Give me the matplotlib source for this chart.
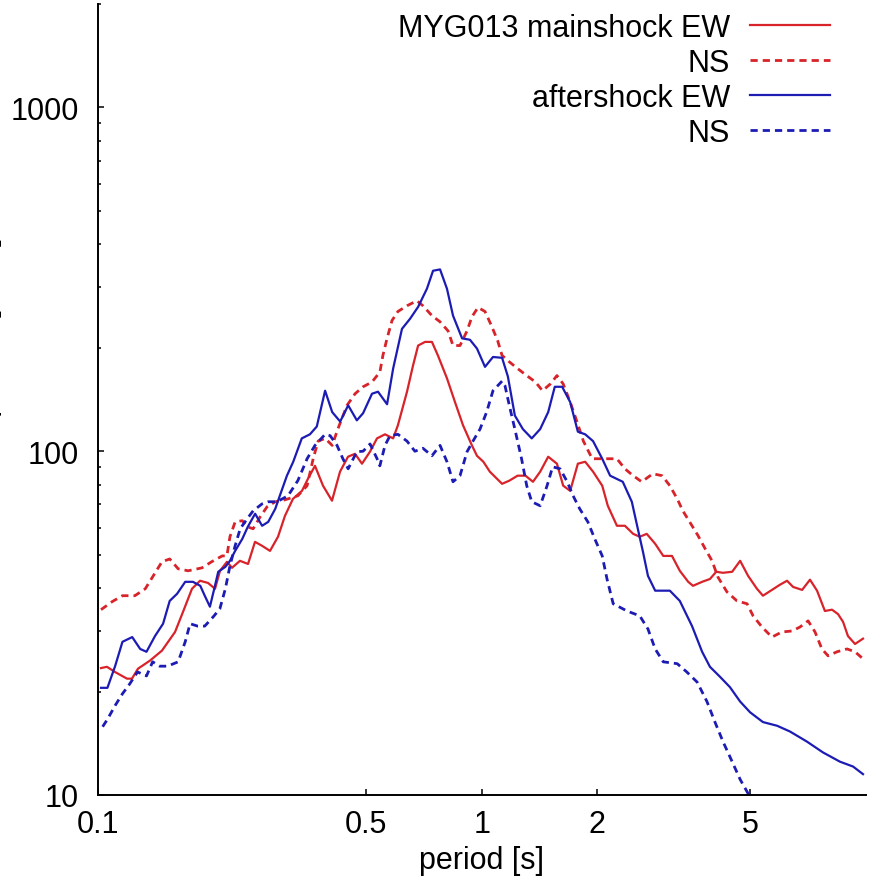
import matplotlib
matplotlib.use("Agg")
import matplotlib.pyplot as plt
from matplotlib.ticker import FixedLocator, NullLocator, LogLocator, NullFormatter

# Fourier spectra at MYG013
# mainshock EW
ms_ew_T = [0.102, 0.1057, 0.1109, 0.1192, 0.1228, 0.1273, 0.1368, 0.147, 0.159, 0.1668, 0.176, 0.1847,
           0.1937, 0.2021, 0.2082, 0.2171, 0.2237, 0.2347, 0.2463, 0.2568, 0.2678, 0.281, 0.2948, 0.3074,
           0.3225, 0.3404, 0.3529, 0.368, 0.3861, 0.4075, 0.4276, 0.4486, 0.4678, 0.4878, 0.5118, 0.5338,
           0.56, 0.588, 0.605, 0.639, 0.662, 0.683, 0.712, 0.742, 0.769, 0.812, 0.852, 0.894, 0.943, 0.972,
           1.01, 1.05, 1.13, 1.18, 1.24, 1.3, 1.36, 1.42, 1.49, 1.57, 1.63, 1.7, 1.78, 1.86, 1.95, 2.06,
           2.13, 2.25, 2.36, 2.48, 2.58, 2.69, 2.83, 2.97, 3.13, 3.28, 3.45, 3.55, 3.75, 3.93, 4.08, 4.25,
           4.49, 4.71, 4.94, 5.21, 5.4, 5.7, 5.98, 6.24, 6.47, 6.83, 7.16, 7.47, 7.83, 8.17, 8.47, 8.73,
           8.99, 9.38, 9.84]
ms_ew_A = [23.4, 23.6, 22.8, 21.8, 21.8, 23.3, 24.6, 26.3, 29.8, 34.1, 39.8, 42, 41.4, 39.8, 44.9, 47.7,
           45.8, 48, 47, 54.5, 53.1, 51.3, 56.4, 64.9, 72.7, 76.7, 83.2, 90.7, 79.4, 71.8, 87.2, 96.4, 98.3,
           92, 99.7, 109, 112, 109, 119, 149, 177, 203, 208, 208, 190, 163, 139, 119, 104, 97, 93.2, 87.2,
           80.4, 82.1, 84.9, 84.9, 81.5, 87.2, 96.4, 92, 79.4, 76.7, 92, 93.2, 87.2, 79.4, 69.4, 60.7, 60.7,
           57.5, 56.4, 57.5, 53.8, 49.6, 49.6, 44.9, 41.7, 40.6, 41.7, 42.5, 44.6, 44.3, 44.6, 48, 43.4,
           39.8, 38, 39.5, 40.9, 42, 40.3, 39.5, 42.3, 39.3, 34.3, 34.6, 33.6, 31.9, 29, 27.5, 28.5]

# mainshock NS
ms_ns_T = [0.102, 0.109, 0.116, 0.125, 0.133, 0.139, 0.147, 0.154, 0.162, 0.172, 0.187, 0.198, 0.211,
           0.217, 0.221, 0.228, 0.238, 0.245, 0.254, 0.265, 0.276, 0.29, 0.307, 0.332, 0.351, 0.364, 0.375,
           0.391, 0.408, 0.422, 0.446, 0.468, 0.491, 0.518, 0.543, 0.553, 0.567, 0.584, 0.605, 0.639, 0.678,
           0.703, 0.742, 0.779, 0.817, 0.842, 0.878, 0.916, 0.943, 0.978, 1.02, 1.06, 1.1, 1.13, 1.18, 1.24,
           1.31, 1.38, 1.44, 1.51, 1.57, 1.63, 1.7, 1.77, 1.84, 1.94, 2.03, 2.13, 2.25, 2.36, 2.48, 2.61,
           2.79, 2.95, 3.09, 3.23, 3.34, 3.53, 3.66, 3.82, 3.98, 4.12, 4.35, 4.62, 4.91, 5.09, 5.37, 5.7,
           6.05, 6.43, 6.74, 7.08, 7.38, 7.69, 7.98, 8.42, 8.94, 9.38, 9.84]
ms_ns_A = [34.6, 36.5, 38, 38, 39.8, 43.1, 47.7, 48.6, 45.5, 44.9, 45.8, 47.7, 49.6, 49.6, 56.4, 62.3,
           62.8, 60.3, 59.5, 64.5, 68.9, 71.3, 72.2, 74.2, 79.4, 95.1, 107, 109, 104, 116, 136, 147, 154,
           159, 170, 190, 213, 240, 255, 265, 274, 265, 248, 238, 224, 203, 203, 224, 246, 262, 255, 232,
           210, 190, 182, 174, 166, 159, 150, 157, 166, 157, 139, 122, 107, 95.1, 95.1, 95.1, 95.1, 88.9,
           84.9, 81.5, 86, 84.9, 79.4, 72.7, 67.1, 60.7, 56.8, 52, 48, 43.1, 39, 36.7, 36, 33.2, 30.8, 28.8,
           29.8, 30, 30.8, 32.1, 29.8, 26.6, 25.4, 26.1, 26.6, 26.1, 24.9]

# aftershock EW
as_ew_T = [0.102, 0.106, 0.111, 0.116, 0.123, 0.129, 0.134, 0.141, 0.148, 0.154, 0.161, 0.169, 0.177,
           0.185, 0.19, 0.196, 0.202, 0.206, 0.215, 0.221, 0.228, 0.238, 0.246, 0.257, 0.268, 0.278, 0.29,
           0.298, 0.311, 0.323, 0.34, 0.357, 0.372, 0.391, 0.408, 0.428, 0.449, 0.473, 0.491, 0.518, 0.537,
           0.567, 0.588, 0.62, 0.651, 0.683, 0.72, 0.747, 0.779, 0.812, 0.842, 0.889, 0.932, 0.972, 1.02,
           1.07, 1.13, 1.17, 1.22, 1.28, 1.35, 1.42, 1.49, 1.55, 1.62, 1.7, 1.78, 1.86, 1.95, 2.06, 2.16,
           2.33, 2.46, 2.55, 2.63, 2.71, 2.83, 3.09, 3.28, 3.53, 3.75, 3.93, 4.17, 4.43, 4.71, 5, 5.4, 5.88,
           6.35, 7.03, 7.74, 8.57, 9.27, 9.84]
as_ew_A = [20.5, 20.5, 23.7, 27.9, 28.8, 26.6, 26.1, 29, 31.5, 36.7, 38.5, 41.7, 41.7, 40.6, 38, 35.3,
           40.6, 44.6, 46.1, 48, 51.3, 55.6, 60.3, 65.8, 60.7, 62.3, 68, 74.2, 84.9, 93.2, 109, 112, 118,
           150, 130, 122, 136, 123, 129, 147, 149, 137, 174, 227, 243, 263, 297, 335, 338, 297, 248, 213,
           211, 199, 176, 188, 187, 165, 127, 116, 109, 116, 130, 154, 154, 139, 114, 112, 107, 95.1, 84.9,
           81.5, 71.3, 59.5, 51, 43.4, 39.3, 39.3, 36.7, 31, 26.1, 23.6, 22.1, 20.6, 18.7, 17.4, 16.3, 15.9,
           15.3, 14.3, 13.3, 12.5, 12.1, 11.5]

# aftershock NS
as_ns_T = [0.103, 0.106, 0.111, 0.116, 0.121, 0.127, 0.134, 0.139, 0.145, 0.152, 0.162, 0.169, 0.174,
           0.182, 0.19, 0.2, 0.208, 0.215, 0.221, 0.228, 0.235, 0.245, 0.254, 0.268, 0.278, 0.293, 0.313,
           0.332, 0.351, 0.368, 0.391, 0.403, 0.42, 0.435, 0.449, 0.473, 0.491, 0.512, 0.534, 0.543, 0.56,
           0.577, 0.605, 0.639, 0.67, 0.703, 0.742, 0.779, 0.812, 0.842, 0.878, 0.916, 0.949, 0.99, 1.03,
           1.07, 1.13, 1.15, 1.18, 1.22, 1.27, 1.31, 1.35, 1.42, 1.48, 1.53, 1.6, 1.67, 1.73, 1.8, 1.89,
           1.97, 2.06, 2.12, 2.2, 2.39, 2.58, 2.71, 2.83, 2.97, 3.23, 3.42, 3.64, 3.86, 4.05, 4.25, 4.49,
           4.71, 4.94, 5.06]
as_ns_A = [15.8, 16.6, 18.2, 19.7, 21, 22.8, 22.2, 24.4, 23.7, 23.7, 24.4, 27.9, 31.5, 31, 31, 33, 34.8,
           39.8, 46.4, 53.1, 59.5, 63.6, 67.1, 70.3, 71.3, 71.3, 74.2, 82.1, 95.1, 104, 112, 111, 104, 95.1,
           88.9, 99.7, 100, 105, 95.1, 90.7, 104, 111, 112, 107, 100, 102, 97, 104, 93.2, 81.5, 84.9, 99.7,
           107, 116, 130, 150, 160, 155, 136, 116, 95.1, 79.4, 71.3, 69.4, 79.4, 90.1, 88.9, 81.5, 74.2, 68,
           62.3, 55.6, 49.6, 42.5, 36, 34.3, 33.2, 30.4, 26.6, 24.4, 24.1, 22.8, 21.3, 18.7, 16.3, 14.3,
           12.5, 11.1, 10.1, 9.41]

labels = ["MYG013 mainshock EW", "NS", "aftershock EW", "NS"]
x_ticks = [0.1, 0.5, 1, 2, 5]
x_ticklabels = ["0.1", "0.5", "1", "2", "5"]
y_ticks = [10, 100, 1000]
y_ticklabels = ["10", "100", "1000"]

plt.rcParams["font.family"] = ["Liberation Sans", "DejaVu Sans"]
red = "#d8232a"
blue = "#1c1cb4"
dash = (2.6, 1.8)

fig = plt.figure(figsize=(8.75, 8.79), dpi=100)
ax = fig.add_axes([97.7 / 875, 1 - 796 / 879, 768 / 875, 791 / 879])

ax.plot(ms_ew_T, ms_ew_A, color=red, lw=1.6, label=labels[0])
ax.plot(ms_ns_T, ms_ns_A, color=red, lw=2.0, ls=(0, dash), label=labels[1])
ax.plot(as_ew_T, as_ew_A, color=blue, lw=1.6, label=labels[2])
ax.plot(as_ns_T, as_ns_A, color=blue, lw=2.0, ls=(0, dash), label=labels[3])

ax.set_xscale("log")
ax.set_yscale("log")
ax.set_xlim(0.1, 10)
ax.set_ylim(10, 2000)

# gnuplot-like frame: only left/bottom axis, ticks pointing inwards
for s in ["top", "right"]:
    ax.spines[s].set_visible(False)
for s in ["left", "bottom"]:
    ax.spines[s].set_linewidth(1.4)

ax.xaxis.set_major_locator(FixedLocator(x_ticks))
ax.set_xticklabels(x_ticklabels)
ax.xaxis.set_minor_locator(NullLocator())
ax.yaxis.set_major_locator(FixedLocator(y_ticks))
ax.set_yticklabels(y_ticklabels)
ax.yaxis.set_minor_locator(LogLocator(base=10, subs=range(2, 10)))
ax.yaxis.set_minor_formatter(NullFormatter())

ax.tick_params(which="both", direction="in", width=1.1, labelsize=22)
ax.tick_params(which="major", length=4.5)
ax.tick_params(which="minor", length=2.2)
ax.tick_params(axis="x", pad=10)
ax.tick_params(axis="y", pad=13.5)

ax.set_xlabel("period [s]", fontsize=22)
ax.xaxis.set_label_coords(0.5, -0.063)
# the y label is almost entirely outside the picture in the original
ax.set_ylabel("Fourier amplitude [cm/s]", fontsize=22)
ax.yaxis.set_label_coords(-0.1245, 0.5)

ax.legend(loc="upper right", bbox_to_anchor=(830 / 875, 1 - 14 / 879),
          bbox_transform=fig.transFigure, markerfirst=False, frameon=False,
          fontsize=22, handlelength=2.62, handletextpad=0.65, labelspacing=0.16,
          borderpad=0, borderaxespad=0)

fig.savefig("out.png", dpi=100)
